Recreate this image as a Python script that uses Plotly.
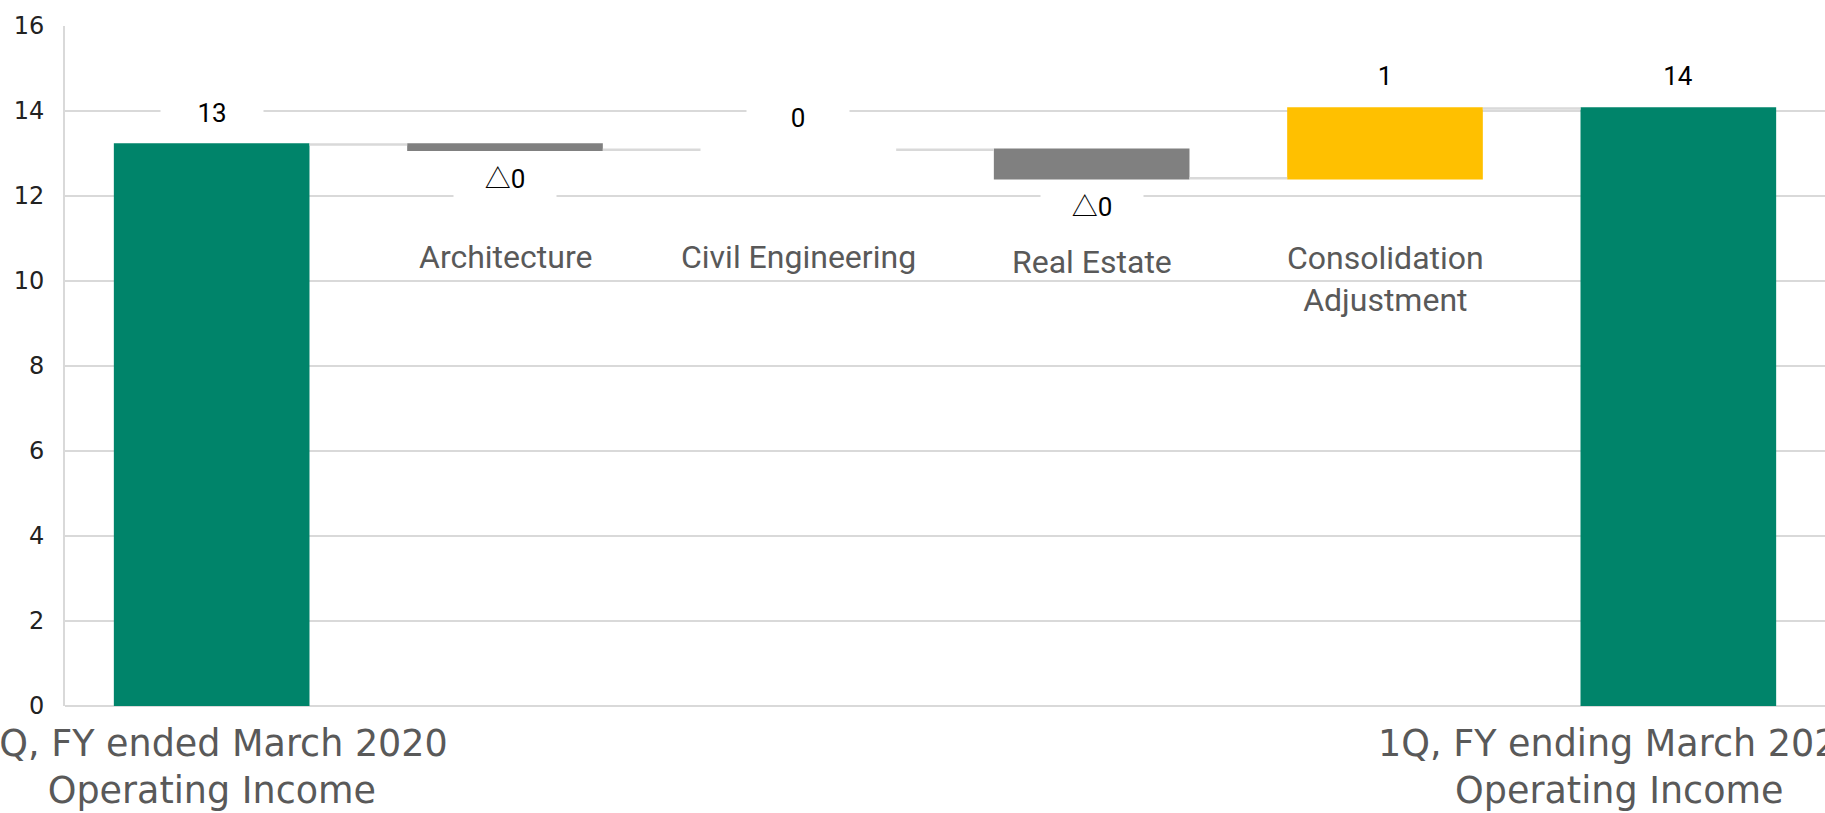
import plotly.graph_objects as go

# ---- data ----
categories = [
    "1Q, FY ended March 2020 Operating Income",
    "Architecture",
    "Civil Engineering",
    "Real Estate",
    "Consolidation Adjustment",
    "1Q, FY ending March 2021 Operating Income",
]
measures = ["absolute", "relative", "relative", "relative", "relative", "total"]
values = [13.21, -0.12, 0.0, -0.67, 1.64, 0]
value_labels = ["13", "△0", "0", "△0", "1", "14"]
bottom_labels = [
    "1Q, FY ended March 2020<br>Operating Income",
    "", "", "", "",
    "1Q, FY ending March 2021<br>Operating Income",
]
bottom_label_xshift = [0, 0, 0, 0, 0, -59]  # layout only
inner_labels = ["", "Architecture", "Civil Engineering", "Real Estate", "Consolidation<br>Adjustment", ""]
inner_label_y = [0, 0.660, 0.660, 0.653, 0.628, 0]  # paper coords (layout only)

GREEN = "#00846A"
YELLOW = "#FFC000"
GRAY = "#808080"
GRID = "#d9d9d9"

fig = go.Figure()
fig.add_trace(go.Waterfall(
    x=categories, y=values, measure=measures,
    increasing=dict(marker=dict(color=YELLOW)),
    decreasing=dict(marker=dict(color=GRAY)),
    totals=dict(marker=dict(color=GREEN)),
    connector=dict(mode="between", line=dict(color=GRID, width=2.5)),
    textposition="none",
    hoverinfo="skip",
))

# compute bar starts/ends from data
level = 0.0
annotations = []
for i, (c, m, v, lab) in enumerate(zip(categories, measures, values, value_labels)):
    if m == "absolute":
        start, end = 0.0, v
        level = v
    elif m == "total":
        start, end = 0.0, level
    else:
        start, end = level, level + v
        level = end
    if m == "relative" and v < 0:
        ya, shift = min(start, end), -29
    else:
        ya, shift = max(start, end), 32
    annotations.append(dict(
        x=c, y=ya, xref="x", yref="y", text=lab, showarrow=False,
        yshift=shift, bgcolor="white", width=100, height=42,
        font=dict(family="Roboto, Noto Sans CJK JP", size=26, color="#000000"),
    ))
    if inner_labels[i]:
        annotations.append(dict(
            x=c, y=inner_label_y[i], xref="x", yref="paper", text=inner_labels[i],
            showarrow=False, yanchor="middle",
            font=dict(family="Roboto", size=32, color="#595959"),
        ))
    if bottom_labels[i]:
        annotations.append(dict(
            x=c, y=0, xref="x", yref="paper", text=bottom_labels[i],
            showarrow=False, yanchor="top", xanchor="center", yshift=-14,
            xshift=bottom_label_xshift[i],
            font=dict(family="DejaVu Sans", size=36.5, color="#595959"),
        ))

fig.update_layout(
    width=1825, height=813,
    margin=dict(l=65, r=0, t=26, b=107),
    plot_bgcolor="white", paper_bgcolor="white",
    showlegend=False, waterfallgap=0.333,
    annotations=annotations,
    xaxis=dict(
        type="category", range=[-0.5, 5.5], automargin=False,
        showticklabels=False,
        showgrid=False, showline=False, ticks="", zeroline=False,
    ),
    yaxis=dict(
        range=[0, 16], dtick=2, automargin=False,
        gridcolor=GRID, gridwidth=2,
        showline=True, linecolor=GRID, linewidth=2,
        zeroline=True, zerolinecolor=GRID, zerolinewidth=2,
        tickfont=dict(family="DejaVu Sans", size=24, color="#222222"),
        ticklabelstandoff=14,
    ),
)

fig.write_html(
    "out.html",
    config={"displayModeBar": False},
    post_script="document.body.style.margin='0';document.body.style.overflow='hidden';",
)
